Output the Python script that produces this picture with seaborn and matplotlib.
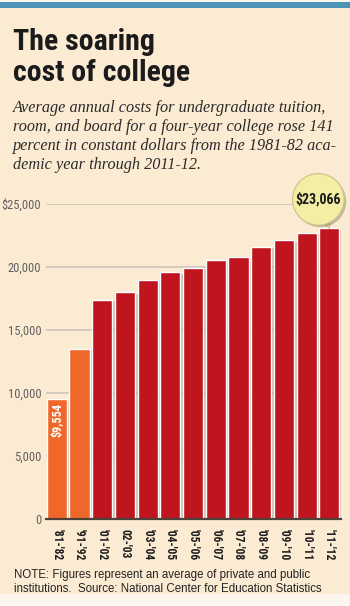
import matplotlib
matplotlib.use("Agg")
import matplotlib.pyplot as plt
import matplotlib.patheffects as pe
from matplotlib.patches import Rectangle
import seaborn as sns
import pandas as pd

# data (constant dollars)
years = ["'81-'82", "'91-'92", "'01-'02", "02-'03", "'03-'04", "'04-'05", "'05-'06",
         "'06-'07", "'07-'08", "'08-'09", "'09-'10", "'10-'11", "'11-'12"]
costs = [9554, 13500, 17400, 18000, 18950, 19580, 19950,
         20580, 20790, 21610, 22120, 22720, 23066]
period = ["early", "early"] + ["recent"] * 11
ytick_vals = [0, 5000, 10000, 15000, 20000, 25000]
ytick_labels = ["0", "5,000", "10,000", "15,000", "20,000", "$25,000"]

title_lines = ["The soaring", "cost of college"]
sub_lines = ["Average annual costs for undergraduate tuition,",
             "room, and board for a four-year college rose 141",
             "percent in constant dollars from the 1981-82 aca-",
             "demic year through 2011-12."]
note_lines = ["NOTE: Figures represent an average of private and public",
              "institutions.  Source: National Center for Education Statistics"]

df = pd.DataFrame({"year": years, "cost": costs, "period": period})

sns.set_theme(style="white")
plt.rcParams["font.family"] = ["Liberation Sans", "DejaVu Sans"]
COND = ["Roboto Condensed", "DejaVu Sans"]

W, H = 350, 606
beige = "#fcebd3"
fig = plt.figure(figsize=(W / 100, H / 100), dpi=100, facecolor="#fdf6ee")

def fy(px):
    return 1 - px / H

# background panel and top stripe
fig.add_artist(Rectangle((0, fy(594)), 1, (594 - 8) / H, transform=fig.transFigure,
                         facecolor=beige, edgecolor="none", zorder=0))
fig.add_artist(Rectangle((0, fy(8)), 1, 6 / H, transform=fig.transFigure,
                         facecolor="#4d93b6", edgecolor="none", zorder=0))

ax = fig.add_axes([45.5 / W, (H - 519) / H, 295.2 / W, 315 / H])
ax.set_facecolor("none")

sns.barplot(data=df, x="year", y="cost", hue="period",
            palette={"early": "#f0672a", "recent": "#c0141e"}, saturation=1,
            width=0.89, dodge=False, legend=False, ax=ax, zorder=3)
for p in ax.patches:
    p.set_path_effects([pe.SimplePatchShadow(offset=(2, -1), shadow_rgbFace="#9a9088", alpha=0.5),
                        pe.Normal()])

ax.set_xlim(-0.5, 12.5)
ax.set_ylim(0, 25000)
ax.set_yticks(ytick_vals)
ax.set_yticklabels(ytick_labels)
ax.yaxis.grid(True, color="#c9c2b8", lw=1.1, zorder=0)
ax.set_axisbelow(True)
ax.set_xlabel("")
ax.set_ylabel("")
for s in ["top", "right", "left"]:
    ax.spines[s].set_visible(False)
ax.spines["bottom"].set_color("#4e4238")
ax.spines["bottom"].set_linewidth(1.6)
ax.spines["bottom"].set_zorder(5)
ax.tick_params(axis="y", length=0, pad=3, labelsize=9, labelcolor="#606060")
ax.tick_params(axis="x", length=0, pad=7, labelsize=8.3, labelcolor="#1e1e1e")
for t in ax.get_yticklabels():
    t.set_family(COND)
for t in ax.get_xticklabels():
    t.set_family(COND)
    t.set_rotation(-90)
    t.set_fontweight("bold")
    t.set_va("top")

# first value inside the bar
ax.annotate(f"${costs[0]:,}", xy=(0, costs[0]), xytext=(0, -4), textcoords="offset pixels",
            rotation=90, ha="center", va="top", color="white", fontsize=8.8,
            fontweight="bold", family=COND, zorder=6)

# bubble for latest value
ax.annotate(f"${costs[-1]:,}", xy=(len(costs) - 1, costs[-1]), xytext=(-11, 29),
            textcoords="offset pixels", ha="center", va="center", fontsize=10,
            fontweight="bold", color="#1a1a1a", family=COND, annotation_clip=False,
            bbox=dict(boxstyle="circle,pad=0.22", fc="#f3eea4", ec="#c9c18a", lw=0.8,
                      path_effects=[pe.SimplePatchShadow(offset=(1.5, -1.5), alpha=0.3), pe.Normal()]),
            arrowprops=dict(arrowstyle="wedge,tail_width=0.35,shrink_factor=0.5",
                            fc="#f3eea4", ec="#c9c18a", lw=0.8, shrinkA=0, shrinkB=0),
            zorder=8)

# title, subtitle and note
for txt, base in zip(title_lines, [50, 81]):
    fig.text(13 / W, fy(base), txt, ha="left", va="baseline", fontsize=21.5,
             fontweight="bold", color="#1b1b1b", family=COND)
for txt, base in zip(sub_lines, [112, 131, 150, 169]):
    fig.text(13 / W, fy(base), txt, ha="left", va="baseline", fontsize=11.7,
             style="italic", color="#2a2a2a", family=["Liberation Serif", "DejaVu Serif"])
for txt, base in zip(note_lines, [578, 592]):
    fig.text(14 / W, fy(base), txt, ha="left", va="baseline", fontsize=8.3,
             color="#222222")

fig.savefig("out.png", dpi=100, facecolor=fig.get_facecolor())
